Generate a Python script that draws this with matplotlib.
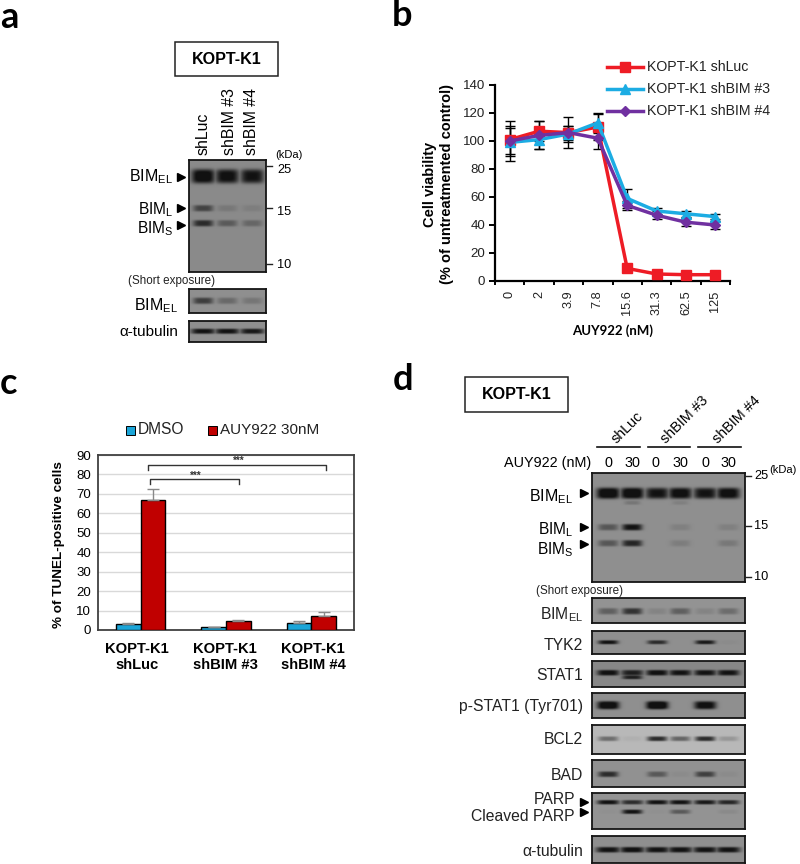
import numpy as np
import matplotlib
matplotlib.use("Agg")
import matplotlib.pyplot as plt
from matplotlib.patches import Rectangle

plt.rcParams['font.family'] = ['Liberation Sans', 'DejaVu Sans']
plt.rcParams['mathtext.fontset'] = 'custom'
plt.rcParams['mathtext.rm'] = 'Liberation Sans'
plt.rcParams['mathtext.default'] = 'rm'

W, H = 800, 864
BIM_EL, BIM_L, BIM_S = 'BIM$_{EL}$', 'BIM$_{L}$', 'BIM$_{S}$'

# ---- panel b data
doses = ['0', '2', '3.9', '7.8', '15.6', '31.3', '62.5', '125']
series_names = ['KOPT-K1 shLuc', 'KOPT-K1 shBIM #3', 'KOPT-K1 shBIM #4']
luc_vals = [101, 107, 106, 110, 9, 5, 4.5, 4.5]
sh3_vals = [99, 101, 105, 113, 59, 50, 48, 46]
sh4_vals = [100, 104, 106, 102, 54, 47, 42, 40]
luc_err = [10, 7, 5, 9, 2, 1, 1, 1]
sh3_err = [10, 7, 6, 7, 7, 2, 2, 2]
sh4_err = [14.5, 10, 11, 8, 3, 3, 3, 3]

# ---- panel c data
groups = ['KOPT-K1\nshLuc', 'KOPT-K1\nshBIM #3', 'KOPT-K1\nshBIM #4']
dmso_vals = [3, 1.5, 3.8]
auy_vals = [67, 4.5, 7]
dmso_err = [0.8, 0.3, 0.7]
auy_err = [5.5, 0.7, 2.3]

# ---- blot band intensities, one value per lane
a_el = [1.15, 1.05, 1.0]
a_l = [0.6, 0.15, 0.1]
a_s = [0.8, 0.4, 0.3]
a_short = [0.65, 0.3, 0.2]
a_tub = [1.0, 1.0, 0.95]
d_el = [1.2, 1.2, 1.0, 1.1, 1.0, 1.1]
d_faint = [0, 0.2, 0, 0.12, 0, 0]
d_l = [0.45, 1.0, 0, 0.12, 0, 0.12]
d_s = [0.45, 0.85, 0, 0.14, 0, 0.18]
d_short = [0.4, 0.75, 0.12, 0.4, 0.12, 0.3]
d_tyk2 = [1.0, 0, 0.8, 0, 0.95, 0.03]
d_stat1 = [1.05, 0.9, 1.05, 1.0, 1.0, 1.0]
d_stat1b = [0, 0.9, 0, 0, 0, 0]
d_pstat = [1.2, 0, 1.3, 0, 1.1, 0]
d_bcl2 = [0.45, 0.05, 0.85, 0.5, 0.85, 0.2]
d_bad = [0.8, 0, 0.45, 0.05, 0.65, 0.05]
d_parp = [1.0, 0.8, 1.0, 1.0, 0.95, 0.85]
d_cparp = [0.03, 1.0, 0.03, 0.45, 0, 0.08]
d_tub = [1.0, 1.05, 1.0, 1.0, 1.0, 1.0]

fig = plt.figure(figsize=(W / 100, H / 100), dpi=100)


def ax_px(x0, y0, x1, y1, **kw):
    return fig.add_axes([x0 / W, 1 - y1 / H, (x1 - x0) / W, (y1 - y0) / H], **kw)


def blot(x0, y0, x1, y1, lanes, bands, bg=0.56):
    """bands: (y, intensities, half height, half width)"""
    ax = ax_px(x0, y0, x1, y1)
    xs, ys = np.meshgrid(np.arange(x0, x1, 0.5), np.arange(y0, y1, 0.5))
    dark = np.zeros_like(xs)
    for yc, vals, hh, hw in bands:
        for lx, v in zip(lanes, vals):
            dark = np.maximum(dark, v * np.exp(-((xs - lx) / hw) ** 4 - ((ys - yc) / hh) ** 4))
    dark = np.clip(dark, 0, 1)
    img = bg * (1 - dark) + 0.07 * dark
    ax.imshow(img, cmap='gray', vmin=0, vmax=1, extent=(x0, x1, y1, y0), aspect='auto', interpolation='bilinear')
    ax.set_xticks([])
    ax.set_yticks([])
    for s in ax.spines.values():
        s.set_linewidth(1.3)
        s.set_color('#151515')
    return ax


# ---------- panel a blots
la = [203, 227, 252]
blot(189, 160, 266, 272, la, [(176, a_el, 7, 11.5), (208, a_l, 3.2, 10), (223, a_s, 3.2, 10)], 0.54)
blot(189, 289, 266, 313, la, [(300.5, a_short, 3.2, 10)], 0.56)
blot(189, 321, 266, 342, la, [(331, a_tub, 2.6, 12)], 0.56)

# ---------- panel d blots
ld = [608, 632, 657, 680, 705, 728]
blot(592, 473, 745, 582, ld, [(493, d_el, 5.5, 11.5), (502.5, d_faint, 2, 8), (527, d_l, 3.2, 10), (543, d_s, 3.2, 10)], 0.56)
blot(592, 598, 745, 623, ld, [(611, d_short, 3.2, 10)], 0.58)
blot(592, 631, 745, 654, ld, [(642, d_tyk2, 2, 10)], 0.56)
blot(592, 661, 745, 687, ld, [(672.5, d_stat1, 2.8, 11), (677, d_stat1b, 2, 10)], 0.53)
blot(592, 693, 745, 718, ld, [(705, d_pstat, 4, 11)], 0.56)
blot(592, 725, 745, 754, ld, [(738.5, d_bcl2, 2.4, 10)], 0.72)
blot(592, 760, 745, 787, ld, [(774, d_bad, 2.8, 10)], 0.57)
blot(592, 793, 745, 829, ld, [(802, d_parp, 2.2, 11), (811.5, d_cparp, 2.2, 10)], 0.58)
blot(592, 836, 745, 863, ld, [(849.5, d_tub, 2.8, 12)], 0.56)

# ---------- panel b chart
axb = ax_px(495, 85, 730, 281)
xpos = np.arange(len(doses)) + 0.5
styles = [(luc_vals, luc_err, '#ee1c25', 's', 7.5), (sh3_vals, sh3_err, '#1cace3', '^', 7.5),
          (sh4_vals, sh4_err, '#7030a0', 'D', 5.5)]
for vals, err, c, m, ms in styles:
    axb.errorbar(xpos, vals, yerr=err, color=c, ecolor='black', elinewidth=1, capsize=3.5, capthick=1,
                 marker=m, ms=ms, lw=2.5, clip_on=False, zorder=3)
axb.set_xlim(0, 8)
axb.set_ylim(0, 140)
axb.set_yticks(range(0, 141, 20))
axb.set_xticks(np.arange(0, 9))
axb.set_xticklabels([])
axb.set_xticks(xpos, minor=True)
axb.set_xticklabels(doses, minor=True, rotation=90, fontsize=9.2, color='#222222')
axb.tick_params(axis='x', which='minor', length=0, pad=7)
axb.tick_params(axis='x', which='major', length=3, width=1.4, direction='out')
axb.tick_params(axis='y', length=4, width=1.4, labelsize=9.6, pad=3, labelcolor='#222222')
for s in ['top', 'right']:
    axb.spines[s].set_visible(False)
for s in ['left', 'bottom']:
    axb.spines[s].set_linewidth(1.6)

# ---------- panel c chart
axc = ax_px(98, 455, 354, 630)
cx = np.arange(3)
bw = 0.29
axc.bar(cx - bw / 2, dmso_vals, bw, color='#1ba5d8', edgecolor='black', lw=1, zorder=3,
        yerr=[[0] * 3, dmso_err], ecolor='#888888', error_kw=dict(capsize=4, elinewidth=1, capthick=1))
axc.bar(cx + bw / 2, auy_vals, bw, color='#c00000', edgecolor='black', lw=1, zorder=3,
        yerr=[[0] * 3, auy_err], ecolor='#888888', error_kw=dict(capsize=4, elinewidth=1, capthick=1))
axc.set_xlim(-0.5, 2.5)
axc.set_ylim(0, 90)
axc.set_yticks(range(0, 91, 10))
axc.yaxis.grid(True, color='#d9d9d9', lw=1, zorder=0)
axc.set_axisbelow(True)
axc.set_xticks(cx)
axc.set_xticklabels([])
axc.tick_params(axis='x', length=0)
axc.tick_params(axis='y', length=0, labelsize=9.5, pad=5)
for s in axc.spines.values():
    s.set_color('#404040')
    s.set_linewidth(1.3)

# ---------- overlay in pixel coordinates for labels and annotations
ov = fig.add_axes([0, 0, 1, 1])
ov.set_xlim(0, W)
ov.set_ylim(H, 0)
ov.axis('off')
ov.patch.set_alpha(0)


def t(x, y, s, size=11, ha='left', va='center', **kw):
    ov.text(x, y, s, fontsize=size, ha=ha, va=va, **kw)


def tri(x, y):
    ov.plot([x], [y], marker='>', ms=5.5, color='black', ls='none')


# panel letters
for x, y, s in [(0, 17, 'a'), (392, 15, 'b'), (0, 383, 'c'), (393, 379, 'd')]:
    t(x, y, s, size=26, family='Lato', fontweight='bold', color='black')

# boxes
for x0, y0, x1, y1 in [(175, 42, 278, 76), (465, 377, 568, 412)]:
    ov.add_patch(Rectangle((x0, y0), x1 - x0, y1 - y0, fc='white', ec='#222222', lw=1.1))
    t((x0 + x1) / 2, (y0 + y1) / 2, 'KOPT-K1', size=11.6, ha='center', fontweight='bold')

# panel a annotations
for x, s in zip([203, 229, 252], ['shLuc', 'shBIM #3', 'shBIM #4']):
    t(x, 155, s, size=11.4, rotation=90, ha='center', va='bottom')
t(173, 177, BIM_EL, size=11.5, ha='right')
t(173, 210, BIM_L, size=11.2, ha='right')
t(173, 229, BIM_S, size=11.2, ha='right')
for y in [177, 208, 225]:
    tri(181, y)
t(128, 281, '(Short exposure)', size=8.4, color='#222222')
t(178, 306, BIM_EL, size=11.5, ha='right')
t(178, 332, 'α-tubulin', size=11, ha='right')
t(275, 155, '(kDa)', size=8)
for y, ty, s in [(166, 170, '25'), (208, 212, '15'), (264, 265, '10')]:
    ov.plot([266, 272], [y, y], color='#222222', lw=1)
    t(277, ty, s, size=9.2)

# panel b annotations
for y, name, (_, _, c, m, ms) in zip([67, 89, 111], series_names, styles):
    ov.plot([607, 643], [y, y], color=c, lw=2.5)
    ov.plot([625], [y], color=c, marker=m, ms=ms)
    t(647, y, name, size=10.2, color='#222222')
t(430, 184, 'Cell viability', size=10.5, rotation=90, ha='center', fontweight='bold')
t(447, 184, '(% of untreatmented control)', size=10.5, rotation=90, ha='center', fontweight='bold')
t(613, 331, 'AUY922 (nM)', size=9.5, ha='center', family='Lato', fontweight='bold')

# panel c annotations
t(59, 545, '% of TUNEL-positive cells', size=9.7, rotation=90, ha='center', fontweight='bold')
ov.add_patch(Rectangle((126, 426), 9, 9, fc='#1ba5d8', ec='black', lw=0.7))
t(138, 430, 'DMSO', size=11.2, color='#222222')
ov.add_patch(Rectangle((208, 426), 9, 9, fc='#c00000', ec='black', lw=0.7))
t(220, 430, 'AUY922 30nM', size=11, color='#222222')
ov.plot([148, 148, 326, 326], [470, 465, 465, 470], color='#333333', lw=1)
ov.plot([150, 150, 239, 239], [484, 479, 479, 484], color='#333333', lw=1)
t(239, 461, '***', size=7, ha='center', fontweight='bold', color='#333333')
t(196, 476, '***', size=7, ha='center', fontweight='bold', color='#333333')
for x, g in zip([137, 225, 313], groups):
    t(x, 657, g, size=10.6, ha='center', fontweight='bold', linespacing=1.25)

# panel d annotations
for x, y, s in [(627, 428, 'shLuc'), (685, 420, 'shBIM #3'), (737, 420, 'shBIM #4')]:
    t(x, y, s, size=10.4, rotation=45, ha='center')
for x0, x1 in [(597, 640), (648, 690), (698, 741)]:
    ov.plot([x0, x1], [447, 447], color='#111111', lw=1.2)
t(591, 463, 'AUY922 (nM)', size=10.4, ha='right')
for x, s in zip([608, 632, 655, 680, 705, 728], ['0', '30', '0', '30', '0', '30']):
    t(x, 463, s, size=10.4, ha='center')
t(573, 497, BIM_EL, size=11.5, ha='right')
t(573, 530, BIM_L, size=11.2, ha='right')
t(573, 549.5, BIM_S, size=11.2, ha='right')
for y in [493, 527, 544]:
    tri(584, y)
t(536, 591, '(Short exposure)', size=8.4, color='#222222')
for y, s in [(615, BIM_EL), (645, 'TYK2'), (675, 'STAT1'), (706, 'p-STAT1 (Tyr701)'), (739, 'BCL2'),
             (776, 'BAD'), (800, 'PARP'), (816.5, 'Cleaved PARP'), (851, 'α-tubulin')]:
    t(583 if 'PARP' not in s else 575, y, s, size=11.3, ha='right', color='#222222')
for y in [802, 812]:
    tri(584, y)
t(769, 470, '(kDa)', size=8)
for y, s in [(476, '25'), (526, '15'), (577, '10')]:
    ov.plot([745, 751], [y, y], color='#222222', lw=1)
    t(754, y, s, size=9.2)

fig.savefig('out.png', dpi=100)
